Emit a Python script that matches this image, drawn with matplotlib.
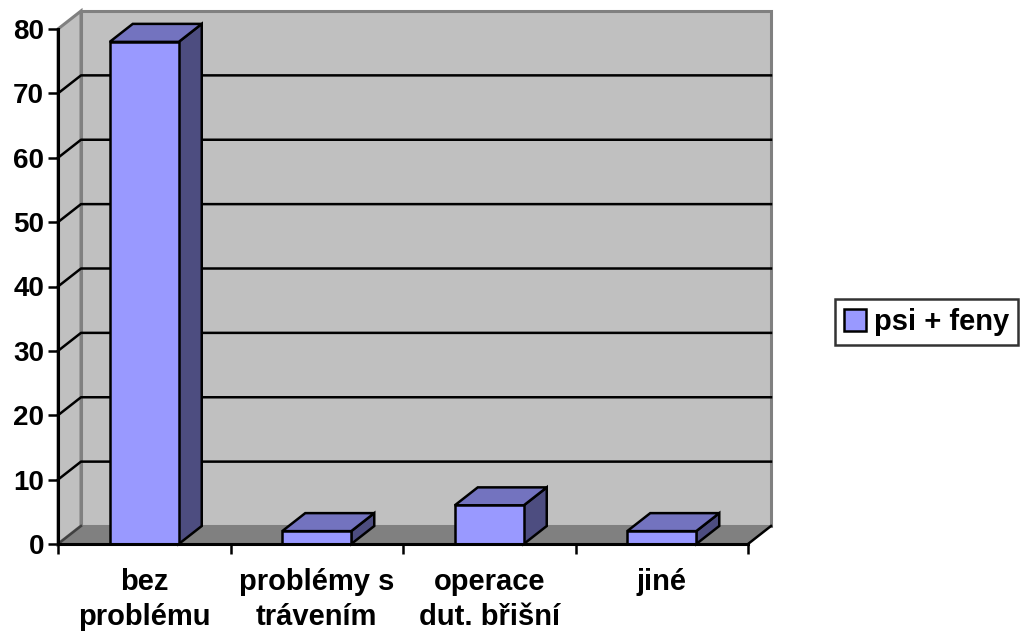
import matplotlib
matplotlib.use("Agg")
import matplotlib.pyplot as plt
from matplotlib.patches import Polygon
from matplotlib.lines import Line2D

plt.rcParams['font.family'] = ['Liberation Sans', 'DejaVu Sans']
plt.rcParams['font.weight'] = 'bold'

# data
categories = ["bez\nproblému", "problémy s\ntrávením", "operace\ndut. břišní", "jiné"]
values = [78, 2, 6, 2]
series_name = "psi + feny"
y_ticks = [0, 10, 20, 30, 40, 50, 60, 70, 80]

# colours
FRONT = "#9999FF"
TOP = "#7373BF"
SIDE = "#4D4D80"
WALL = "#C0C0C0"
FLOOR = "#808080"
EDGE_GREY = "#808080"

W, H = 1022, 634
fig = plt.figure(figsize=(W / 100, H / 100), dpi=100)
ax = fig.add_axes([58 / W, 90 / H, 690 / W, 515 / H])
n = len(categories)
xmin, xmax = -0.5, n - 0.5
ymin, ymax = 0, 80
ax.set_xlim(xmin, xmax)
ax.set_ylim(ymin, ymax)

# depth of the 3-D box, in screen pixels, converted to data units
DEPTH_PX = (23, 18)
p0 = ax.transData.transform((0, 0))
d = ax.transData.inverted().transform((p0[0] + DEPTH_PX[0], p0[1] + DEPTH_PX[1]))
ddx, ddy = d[0], d[1]

kw = dict(clip_on=False)
LW = 1.8

# back wall
ax.add_patch(Polygon([(xmin + ddx, ymin + ddy), (xmax + ddx, ymin + ddy),
                      (xmax + ddx, ymax + ddy), (xmin + ddx, ymax + ddy)],
                     closed=True, facecolor=WALL, edgecolor=EDGE_GREY, lw=2.2, zorder=1, **kw))
# left side wall
ax.add_patch(Polygon([(xmin, ymin), (xmin + ddx, ymin + ddy),
                      (xmin + ddx, ymax + ddy), (xmin, ymax)],
                     closed=True, facecolor=WALL, edgecolor=EDGE_GREY, lw=2.2, zorder=1, **kw))
# floor
ax.add_patch(Polygon([(xmin, ymin), (xmax, ymin), (xmax + ddx, ymin + ddy), (xmin + ddx, ymin + ddy)],
                     closed=True, facecolor=FLOOR, edgecolor="none", lw=0, zorder=1.5, **kw))
ax.add_line(Line2D([xmax, xmax + ddx], [ymin, ymin + ddy], color="black", lw=LW, zorder=1.6, **kw))
ax.add_line(Line2D([xmin, xmin + ddx], [ymin, ymin + ddy], color="#404040", lw=LW, zorder=1.6, **kw))

# gridlines on the side wall and back wall
for v in y_ticks[1:-1]:
    ax.add_line(Line2D([xmin, xmin + ddx, xmax + ddx], [v, v + ddy, v + ddy],
                       color="black", lw=LW, zorder=2, **kw))

# bars: front faces through ax.bar, then side and top faces
half = 0.2
bars = ax.bar(range(n), values, width=2 * half, color=FRONT, edgecolor="black",
              linewidth=LW, zorder=5, label=series_name, clip_on=False)
for i, v in enumerate(values):
    ax.add_patch(Polygon([(i + half, 0), (i + half, v), (i + half + ddx, v + ddy), (i + half + ddx, ddy)],
                         closed=True, facecolor=SIDE, edgecolor="black", lw=LW, zorder=4, **kw))
    ax.add_patch(Polygon([(i - half, v), (i + half, v), (i + half + ddx, v + ddy), (i - half + ddx, v + ddy)],
                         closed=True, facecolor=TOP, edgecolor="black", lw=LW, zorder=4, **kw))

# axes
for s in ("top", "right"):
    ax.spines[s].set_visible(False)
for s in ("left", "bottom"):
    ax.spines[s].set_linewidth(2.2)
    ax.spines[s].set_zorder(6)
ax.patch.set_visible(False)

ax.set_yticks(y_ticks)
ax.set_yticklabels([str(t) for t in y_ticks], fontsize=20, fontweight="bold")
ax.tick_params(axis="y", direction="out", length=7, width=1.8, pad=3)

ax.set_xticks([k - 0.5 for k in range(n + 1)])
ax.set_xticklabels([])
ax.tick_params(axis="x", which="major", direction="out", length=7, width=1.8)
ax.set_xticks(range(n), minor=True)
ax.set_xticklabels(categories, minor=True, fontsize=21, fontweight="bold",
                   linespacing=1.35, ha="center", multialignment="center")
ax.tick_params(axis="x", which="minor", length=0, pad=17)

leg = ax.legend(handles=[bars], labels=[series_name], loc="center left",
                bbox_to_anchor=(835 / W, (H - 322) / H), bbox_transform=fig.transFigure,
                frameon=True, fancybox=False, shadow=False, borderpad=0.3,
                handlelength=0.75, handleheight=0.75, handletextpad=0.3,
                borderaxespad=0, prop=dict(size=21, weight="bold"))
leg.get_frame().set_edgecolor("black")
leg.get_frame().set_linewidth(1.8)

fig.savefig("out.png", dpi=100)
